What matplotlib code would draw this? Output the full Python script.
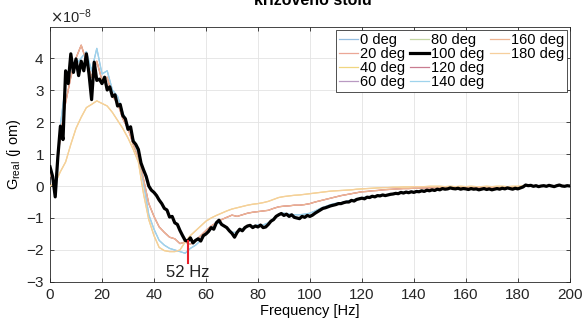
import numpy as np
import matplotlib
matplotlib.use("Agg")
import matplotlib.pyplot as plt

plt.rcParams['font.family'] = ['Liberation Sans', 'DejaVu Sans']

# frequency bins [Hz]
freq_1hz = np.arange(0, 201, 1)
freq_2hz = np.arange(0, 201, 2)

# G_real values in units of 1e-8
g_100 = [
    0.60, 0.30, -0.34, 0.90, 1.87, 1.45, 3.60, 3.20, 4.13, 3.55,
    3.97, 3.45, 3.90, 3.60, 4.13, 3.50, 2.70, 3.87, 3.30, 3.34,
    3.20, 3.40, 3.00, 3.10, 2.80, 2.85, 2.50, 2.55, 2.20, 2.10,
    1.77, 1.85, 1.40, 1.30, 1.14, 0.72, 0.50, 0.30, 0.00, -0.13,
    -0.20, -0.30, -0.44, -0.55, -0.70, -0.75, -0.97, -0.95, -1.15, -1.20,
    -1.39, -1.55, -1.70, -1.72, -1.62, -1.78, -1.70, -1.65, -1.72, -1.55,
    -1.50, -1.42, -1.30, -1.35, -1.15, -1.07, -1.20, -1.25, -1.30, -1.40,
    -1.48, -1.60, -1.45, -1.35, -1.40, -1.30, -1.25, -1.23, -1.30, -1.25,
    -1.28, -1.22, -1.30, -1.28, -1.20, -1.10, -1.05, -0.95, -0.90, -0.86,
    -0.92, -0.88, -0.95, -0.90, -0.98, -1.00, -1.02, -0.95, -0.98, -0.92,
    -0.95, -0.91, -0.85, -0.80, -0.75, -0.70, -0.68, -0.65, -0.62, -0.60,
    -0.58, -0.55, -0.55, -0.52, -0.50, -0.50, -0.45, -0.47, -0.42, -0.40,
    -0.38, -0.40, -0.35, -0.36, -0.32, -0.34, -0.30, -0.31, -0.28, -0.30,
    -0.28, -0.26, -0.25, -0.23, -0.24, -0.20, -0.22, -0.19, -0.21, -0.18,
    -0.20, -0.17, -0.18, -0.15, -0.17, -0.13, -0.15, -0.12, -0.14, -0.10,
    -0.12, -0.08, -0.10, -0.09, -0.06, -0.08, -0.09, -0.07, -0.10, -0.08,
    -0.09, -0.11, -0.08, -0.10, -0.09, -0.12, -0.10, -0.08, -0.11, -0.09,
    -0.12, -0.10, -0.08, -0.10, -0.07, -0.09, -0.06, -0.08, -0.10, -0.07,
    -0.09, -0.06, -0.03, 0.03, 0.01, 0.02, -0.01, 0.01, -0.02, 0.00,
    0.01, -0.01, 0.02, 0.00, -0.02, 0.01, 0.03, 0.00, -0.01, 0.01,
    0.00]

g_blue = [
    0.50, -0.10, 1.90, 3.20, 3.90, 3.80, 4.00, 4.20, 3.60, 4.30,
    3.50, 3.60, 3.00, 2.80, 2.30, 1.90, 1.50, 0.90, 0.10, -0.90,
    -1.35, -1.70, -1.85, -1.95, -2.00, -2.05, -2.10, -1.95, -1.85, -1.70,
    -1.50, -1.35, -1.15, -1.18, -1.30, -1.45, -1.45, -1.35, -1.25, -1.25,
    -1.22, -1.22, -1.15, -1.02, -0.88, -0.85, -0.88, -0.90, -0.90, -0.88,
    -0.85, -0.78, -0.70, -0.64, -0.58, -0.54, -0.52, -0.48, -0.44, -0.41,
    -0.37, -0.34, -0.32, -0.30, -0.28, -0.27, -0.24, -0.22, -0.20, -0.19,
    -0.18, -0.16, -0.15, -0.13, -0.12, -0.10, -0.09, -0.07, -0.08, -0.08,
    -0.09, -0.08, -0.09, -0.10, -0.09, -0.10, -0.08, -0.08, -0.07, -0.08,
    -0.07, -0.03, 0.02, 0.00, -0.01, 0.01, 0.01, -0.01, 0.02, 0.00,
    0.00]

g_pink = [
    0.40, 0.00, 1.60, 2.60, 3.40, 4.00, 4.40, 3.90, 3.40, 3.90,
    3.30, 3.40, 2.80, 2.60, 2.10, 1.80, 1.30, 0.90, 0.20, -0.55,
    -0.95, -1.28, -1.45, -1.60, -1.65, -1.80, -1.75, -1.82, -1.70, -1.55,
    -1.39, -1.25, -1.15, -1.05, -0.98, -0.91, -0.95, -0.90, -0.85, -0.82,
    -0.80, -0.78, -0.76, -0.70, -0.65, -0.63, -0.62, -0.60, -0.60, -0.58,
    -0.55, -0.50, -0.46, -0.42, -0.38, -0.34, -0.30, -0.27, -0.24, -0.21,
    -0.18, -0.17, -0.15, -0.14, -0.12, -0.11, -0.10, -0.09, -0.08, -0.08,
    -0.07, -0.07, -0.06, -0.06, -0.05, -0.05, -0.05, -0.04, -0.05, -0.05,
    -0.06, -0.05, -0.06, -0.06, -0.05, -0.06, -0.05, -0.05, -0.04, -0.05,
    -0.04, -0.02, 0.02, 0.00, 0.00, 0.01, 0.01, 0.00, 0.02, 0.00,
    0.01]

g_yellow = [
    0.00, 0.10, 0.45, 0.75, 1.30, 1.80, 2.15, 2.45, 2.55, 2.66,
    2.58, 2.50, 2.30, 2.05, 1.80, 1.50, 1.15, 0.75, -0.25, -1.05,
    -1.55, -1.92, -2.02, -2.05, -2.05, -2.00, -1.75, -1.55, -1.40, -1.25,
    -1.10, -1.00, -0.92, -0.85, -0.78, -0.72, -0.68, -0.64, -0.60, -0.57,
    -0.55, -0.52, -0.48, -0.42, -0.36, -0.33, -0.31, -0.29, -0.28, -0.26,
    -0.24, -0.22, -0.20, -0.18, -0.16, -0.15, -0.14, -0.13, -0.12, -0.10,
    -0.09, -0.08, -0.07, -0.06, -0.05, -0.05, -0.04, -0.04, -0.03, -0.03,
    -0.02, -0.02, -0.02, -0.01, -0.01, -0.01, -0.02, -0.01, -0.02, -0.01,
    -0.02, -0.01, -0.02, -0.02, -0.01, -0.02, -0.01, -0.01, -0.02, -0.01,
    -0.01, 0.00, 0.02, 0.01, 0.00, 0.01, 0.01, 0.00, 0.02, 0.01,
    0.01]

labels = ['0 deg', '20 deg', '40 deg', '60 deg', '80 deg', '100 deg',
          '120 deg', '140 deg', '160 deg', '180 deg']
colors = ['#94bde0', '#eba796', '#f0d680', '#b99ac2', '#c4d6a2', 'black',
          '#c97c90', '#9fd3ec', '#eeb592', '#f6cf9c']
series = [(freq_2hz, g_blue), (freq_2hz, g_pink), (freq_2hz, g_yellow),
          (freq_1hz, g_100), (freq_1hz, g_100), (freq_1hz, g_100),
          (freq_2hz, g_pink), (freq_2hz, g_blue), (freq_2hz, g_pink),
          (freq_2hz, g_yellow)]

peak_freq = 53
peak_label = '52 Hz'

fig = plt.figure(figsize=(5.85, 3.21), dpi=100)
ax = fig.add_axes([0.0855, 0.1215, 0.8885, 0.7945])

handles = []
for lab, col, (f, g) in zip(labels, colors, series):
    if lab == '100 deg':
        h, = ax.plot(f, np.array(g) * 1e-8, color=col, lw=2.3, zorder=5, label=lab)
    else:
        h, = ax.plot(f, np.array(g) * 1e-8, color=col, lw=0.9, zorder=3, label=lab)
    handles.append(h)

ax.plot([peak_freq, peak_freq], [-1.72e-8, -2.4e-8], color='#e8202a', lw=1.5, zorder=6)
ax.text(peak_freq, -2.48e-8, peak_label, ha='center', va='top', fontsize=12, color='#222222')

ax.set_xlim(0, 200)
ax.set_ylim(-3e-8, 4.97e-8)
ax.set_xticks(np.arange(0, 201, 20))
ax.set_yticks(np.arange(-3, 5) * 1e-8)
ax.ticklabel_format(axis='y', style='sci', scilimits=(-8, -8), useMathText=True)
ax.yaxis.get_offset_text().set_fontsize(10.5)
ax.grid(True, color='#e3e3e3', lw=0.6)
ax.set_axisbelow(True)
ax.tick_params(direction='in', top=True, right=True, length=3, width=0.6,
               labelsize=11, colors='#262626', pad=4)
for s in ax.spines.values():
    s.set_linewidth(0.6)
    s.set_color('#262626')

ax.set_xlabel('Frequency [Hz]', fontsize=10.5, labelpad=2)
ax.set_ylabel('G$_{\\mathregular{real}}$ (j om)', fontsize=10.5, labelpad=2)

# two blank entries so the legend columns come out 4 / 4 / 2
blank = [plt.Line2D([], [], alpha=0) for _ in range(2)]
leg = ax.legend(handles + blank, labels + ['', ''], ncol=3, loc='upper right',
                fontsize=10.5, handlelength=1.3, handletextpad=0.15,
                columnspacing=0.35, labelspacing=0.0, borderpad=0.2,
                borderaxespad=0.2, fancybox=False, framealpha=1)
leg.get_frame().set_edgecolor('#333333')
leg.get_frame().set_linewidth(0.6)

fig.text(0.534, 1 - 5 / 321, 'křížového stolu', ha='center', va='baseline',
         fontsize=11.5, fontweight='bold')

fig.savefig('out.png', dpi=100)
